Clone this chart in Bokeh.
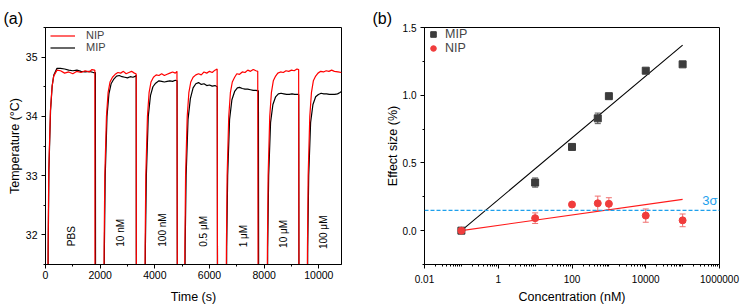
from bokeh.plotting import figure
from bokeh.layouts import row
from bokeh.models import (Range1d, SingleIntervalTicker, FixedTicker, CustomJSTickFormatter,
                          NumeralTickFormatter, Legend, LegendItem, Label, Span, Whisker,
                          TeeHead, ColumnDataSource)
from bokeh.core.properties import value
from bokeh.embed import file_html
from bokeh.resources import INLINE
from math import pi

FONT = "Liberation Sans"

# ---------------- Panel (a) data: temperature vs time, one list per injection step ----------------
nip_seg_t = [
    [80, 95, 120, 180, 240, 300, 420, 550, 700, 850, 1000, 1150, 1300, 1450, 1600, 1700, 1790, 1806, 1812],
    [2130, 2145, 2170, 2230, 2290, 2360, 2450, 2550, 2650, 2750, 2850, 2950, 3050, 3150, 3250, 3310, 3320, 3326],
    [3630, 3645, 3670, 3730, 3790, 3860, 3950, 4050, 4150, 4250, 4350, 4450, 4550, 4650, 4750, 4810, 4826],
    [5085, 5100, 5125, 5185, 5245, 5315, 5400, 5500, 5600, 5700, 5800, 5900, 6000, 6100, 6200, 6280, 6296],
    [6605, 6620, 6645, 6705, 6765, 6835, 6920, 7000, 7100, 7200, 7300, 7400, 7500, 7600, 7700, 7765, 7780],
    [8105, 8120, 8145, 8205, 8265, 8335, 8420, 8500, 8600, 8700, 8800, 8900, 9000, 9100, 9200, 9262, 9276],
    [9570, 9585, 9610, 9670, 9730, 9800, 9885, 9970, 10070, 10170, 10270, 10370, 10470, 10570, 10700, 10830],
]
nip_seg_T = [
    [30.5, 31.8, 33.1, 34.1, 34.5, 34.68, 34.78, 34.77, 34.73, 34.75, 34.72, 34.76, 34.74, 34.77, 34.75, 34.79, 34.78, 34.78, 30.5],
    [30.5, 31.8, 33.0, 34.0, 34.4, 34.58, 34.66, 34.71, 34.74, 34.73, 34.76, 34.72, 34.74, 34.76, 34.73, 34.72, 34.70, 30.5],
    [30.5, 31.8, 33.0, 34.0, 34.4, 34.58, 34.66, 34.70, 34.69, 34.72, 34.69, 34.71, 34.73, 34.75, 34.73, 34.76, 30.5],
    [30.5, 31.8, 33.0, 34.0, 34.4, 34.58, 34.66, 34.70, 34.72, 34.70, 34.75, 34.73, 34.76, 34.74, 34.78, 34.80, 30.5],
    [30.5, 31.8, 33.0, 34.0, 34.4, 34.58, 34.66, 34.72, 34.71, 34.75, 34.74, 34.78, 34.76, 34.79, 34.77, 34.76, 30.5],
    [30.5, 31.8, 33.0, 34.0, 34.4, 34.60, 34.68, 34.73, 34.75, 34.74, 34.77, 34.76, 34.78, 34.77, 34.80, 34.79, 30.5],
    [30.5, 31.8, 33.0, 34.0, 34.4, 34.60, 34.68, 34.73, 34.76, 34.75, 34.77, 34.76, 34.78, 34.76, 34.75, 34.74],
]
mip_seg_t = [
    [90, 100, 125, 185, 245, 305, 420, 550, 700, 850, 1000, 1150, 1300, 1450, 1600, 1750, 1825, 1832],
    [2140, 2155, 2185, 2250, 2320, 2400, 2500, 2600, 2700, 2800, 2900, 3000, 3100, 3200, 3300, 3318, 3324],
    [3640, 3655, 3690, 3760, 3840, 3930, 4030, 4150, 4250, 4350, 4450, 4550, 4650, 4750, 4815, 4824],
    [5095, 5110, 5145, 5215, 5300, 5400, 5500, 5600, 5700, 5800, 5900, 6000, 6100, 6200, 6285, 6294],
    [6615, 6630, 6665, 6735, 6820, 6920, 7020, 7100, 7200, 7300, 7400, 7500, 7600, 7700, 7790, 7800],
    [8115, 8130, 8165, 8235, 8320, 8420, 8520, 8620, 8720, 8820, 8920, 9020, 9120, 9220, 9265, 9274],
    [9580, 9595, 9630, 9700, 9785, 9885, 9985, 10085, 10185, 10285, 10385, 10485, 10585, 10685, 10760, 10830],
]
mip_seg_T = [
    [30.5, 31.8, 33.1, 34.1, 34.52, 34.70, 34.81, 34.81, 34.80, 34.78, 34.77, 34.78, 34.76, 34.75, 34.76, 34.74, 34.74, 30.5],
    [30.5, 31.8, 33.0, 34.0, 34.38, 34.55, 34.63, 34.68, 34.69, 34.67, 34.66, 34.65, 34.67, 34.66, 34.68, 34.70, 30.5],
    [30.5, 31.8, 33.0, 34.0, 34.35, 34.50, 34.56, 34.60, 34.59, 34.58, 34.59, 34.60, 34.59, 34.61, 34.60, 30.5],
    [30.5, 31.8, 33.0, 33.95, 34.30, 34.48, 34.55, 34.57, 34.54, 34.55, 34.52, 34.53, 34.51, 34.52, 34.50, 30.5],
    [30.5, 31.8, 33.0, 33.95, 34.28, 34.42, 34.48, 34.49, 34.47, 34.46, 34.46, 34.45, 34.44, 34.44, 34.43, 30.5],
    [30.5, 31.8, 33.0, 33.90, 34.20, 34.33, 34.38, 34.39, 34.38, 34.37, 34.37, 34.38, 34.37, 34.37, 34.37, 30.5],
    [30.5, 31.8, 33.0, 33.90, 34.20, 34.33, 34.37, 34.39, 34.38, 34.38, 34.37, 34.37, 34.37, 34.38, 34.40, 34.42],
]
step_labels = ["PBS", "10 nM", "100 nM", "0.5 μM", "1 μM", "10 μM", "100 μM"]
step_label_t = [940, 2745, 4270, 5770, 7230, 8700, 10160]
step_label_T = [31.81, 31.80, 31.80, 31.80, 31.79, 31.78, 31.76]

# ---------------- Panel (b) data: effect size vs concentration ----------------
conc = [0.1, 10, 100, 500, 1000, 10000, 100000]
mip_eff = [0.0, 0.355, 0.618, 0.829, 0.993, 1.181, 1.228]
mip_err = [0.0, 0.034, 0.01, 0.039, 0.01, 0.01, 0.01]
nip_eff = [0.0, 0.092, 0.193, 0.202, 0.198, 0.111, 0.076]
nip_err = [0.0, 0.039, 0.01, 0.053, 0.045, 0.049, 0.047]
fit_x = [0.1, 100000]
mip_fit = [0.0, 1.37]
nip_fit = [0.0, 0.231]
three_sigma = 0.15


def style(p, tick_fs, panel_tag, tag_offset):
    p.xgrid.visible = False
    p.ygrid.visible = False
    p.outline_line_color = "black"
    p.outline_line_width = 1
    p.outline_line_alpha = 1
    p.background_fill_color = "white"
    p.border_fill_color = "white"
    p.title.text = panel_tag
    p.title.align = "left"
    p.title.offset = tag_offset
    p.title.standoff = 2
    p.title.text_font = FONT
    p.title.text_font_size = "16px"
    p.title.text_font_style = "normal"
    p.title.text_color = "black"
    for ax in (p.xaxis[0], p.yaxis[0]):
        ax.axis_line_color = "black"
        ax.major_tick_line_color = "black"
        ax.minor_tick_line_color = "black"
        ax.major_tick_in = 0
        ax.major_tick_out = 4
        ax.minor_tick_in = 0
        ax.minor_tick_out = 2
        ax.major_label_text_font = FONT
        ax.major_label_text_font_size = tick_fs
        ax.major_label_text_color = "black"
        ax.axis_label_text_font = FONT
        ax.axis_label_text_font_size = "12.5px"
        ax.axis_label_text_font_style = "normal"
        ax.axis_label_text_color = "black"


# ---------------- Panel (a) ----------------
pa = figure(output_backend="svg", toolbar_location=None, width=370, height=306,
            min_border_left=45, min_border_right=29, min_border_top=27, min_border_bottom=42,
            x_range=Range1d(0, 10830), y_range=Range1d(31.5, 35.5))
style(pa, "10.5px", "(a)", -42)
pa.xaxis.axis_label = "Time (s)"
pa.yaxis.axis_label = "Temperature (°C)"
pa.xaxis.ticker = SingleIntervalTicker(interval=2000, num_minor_ticks=2)
pa.yaxis.ticker = SingleIntervalTicker(interval=1, num_minor_ticks=2)
pa.xaxis.major_label_standoff = 2
pa.xaxis.axis_label_standoff = 8
pa.yaxis.major_label_standoff = 4
pa.yaxis.axis_label_standoff = 1

mip_t = [t for seg in mip_seg_t for t in seg]
mip_T = [v for seg in mip_seg_T for v in seg]
nip_t = [t for seg in nip_seg_t for t in seg]
nip_T = [v for seg in nip_seg_T for v in seg]
r_mip = pa.line(mip_t, mip_T, line_color="black", line_width=1.2)
r_nip = pa.line(nip_t, nip_T, line_color="#ff0000", line_width=1.2)

lab_src = ColumnDataSource(dict(x=step_label_t, y=step_label_T, text=step_labels))
pa.text(x="x", y="y", text="text", source=lab_src, angle=pi / 2, text_align="left",
        text_baseline="middle", text_font=value(FONT), text_font_size="10px", text_color="black")

leg_a = Legend(items=[LegendItem(label="NIP", renderers=[r_nip]),
                      LegendItem(label="MIP", renderers=[r_mip])],
               location=(5, 211), margin=0, padding=0, spacing=-4,
               glyph_width=25, glyph_height=11, label_height=11, label_standoff=11,
               label_text_font=FONT, label_text_font_size="11px",
               border_line_alpha=0, background_fill_alpha=0)
pa.add_layout(leg_a)

# ---------------- Panel (b) ----------------
pb = figure(output_backend="svg", toolbar_location=None, width=371, height=306,
            min_border_left=54, min_border_right=22, min_border_top=27, min_border_bottom=41,
            x_axis_type="log", x_range=Range1d(0.01, 1e6), y_range=Range1d(-0.25, 1.5))
style(pb, "10px", "(b)", -52)
pb.xaxis.axis_label = "Concentration (nM)"
pb.yaxis.axis_label = "Effect size (%)"
minor_log = [m * 10.0 ** e for e in range(-2, 6) for m in range(1, 10)]
pb.xaxis.ticker = FixedTicker(ticks=[0.01, 1, 100, 10000, 1000000], minor_ticks=minor_log)
pb.xaxis.formatter = CustomJSTickFormatter(code="return tick.toString();")
pb.yaxis.ticker = SingleIntervalTicker(interval=0.5, num_minor_ticks=2)
pb.yaxis.formatter = NumeralTickFormatter(format="0.0")
pb.xaxis.major_label_standoff = 6
pb.xaxis.axis_label_standoff = 4
pb.yaxis.major_label_standoff = 4
pb.yaxis.axis_label_standoff = 0

pb.add_layout(Span(location=three_sigma, dimension="width", line_color="#1ea0ec",
                   line_width=1.3, line_dash="4 2"))
pb.add_layout(Label(x=8.8e5, y=0.166, text="3σ", text_align="right", text_baseline="bottom",
                    text_font=FONT, text_font_size="13px", text_color="#1ea0ec"))

pb.line(fit_x, mip_fit, line_color="black", line_width=1.1)
pb.line(fit_x, nip_fit, line_color="#ff1a1a", line_width=1.1)

mip_src = ColumnDataSource(dict(x=conc, y=mip_eff,
                                up=[a + b for a, b in zip(mip_eff, mip_err)],
                                lo=[a - b for a, b in zip(mip_eff, mip_err)]))
nip_src = ColumnDataSource(dict(x=conc, y=nip_eff,
                                up=[a + b for a, b in zip(nip_eff, nip_err)],
                                lo=[a - b for a, b in zip(nip_eff, nip_err)]))
for src, col in ((mip_src, "#555555"), (nip_src, "#f07070")):
    w = Whisker(base="x", upper="up", lower="lo", source=src, line_color=col, line_width=1,
                upper_head=TeeHead(size=6, line_color=col, line_width=1),
                lower_head=TeeHead(size=6, line_color=col, line_width=1), level="underlay")
    pb.add_layout(w)

r_msq = pb.scatter("x", "y", source=mip_src, marker="square", size=7,
                   fill_color="#3c3c3c", line_color="#3c3c3c")
r_ncir = pb.scatter("x", "y", source=nip_src, marker="circle", size=7,
                    fill_color="#f03c3c", line_color="#f03c3c")

leg_b = Legend(items=[LegendItem(label="MIP", renderers=[r_msq]),
                      LegendItem(label="NIP", renderers=[r_ncir])],
               location="top_left", margin=0, padding=0, spacing=0,
               glyph_width=18, glyph_height=14, label_height=14, label_standoff=3,
               label_text_font=FONT, label_text_font_size="12.5px",
               border_line_alpha=0, background_fill_alpha=0)
pb.add_layout(leg_b)

layout = row(pa, pb)
open("out.html", "w").write(file_html(layout, INLINE))
